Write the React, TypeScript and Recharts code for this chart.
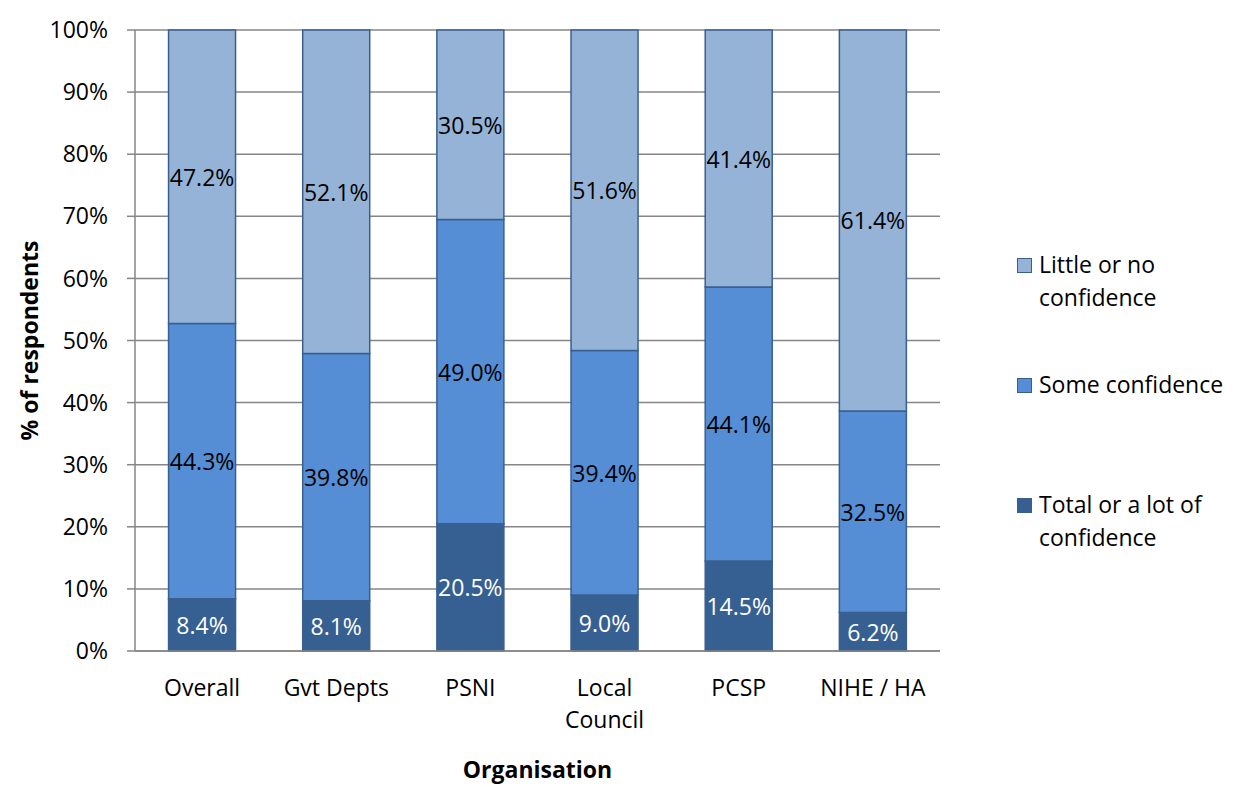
import { BarChart, Bar, XAxis, YAxis, CartesianGrid, LabelList } from "recharts"

const organisations = ["Overall", "Gvt Depts", "PSNI", "Local Council", "PCSP", "NIHE / HA"]
const totalConfidence = [8.4, 8.1, 20.5, 9.0, 14.5, 6.2]
const someConfidence = [44.3, 39.8, 49.0, 39.4, 44.1, 32.5]
const littleConfidence = [47.2, 52.1, 30.5, 51.6, 41.4, 61.4]
const yTicks = [0, 0.1, 0.2, 0.3, 0.4, 0.5, 0.6, 0.7, 0.8, 0.9, 1]

const FONT = "'Open Sans', sans-serif"
const FS = 23
const GRID = "#868686"
const EDGE = "#3A5F8F"

const series = [
  { key: "total", name: "Total or a lot of confidence", fill: "#376092", values: totalConfidence, text: "#ffffff" },
  { key: "some", name: "Some confidence", fill: "#558ED5", values: someConfidence, text: "#000000" },
  { key: "little", name: "Little or no confidence", fill: "#95B3D7", values: littleConfidence, text: "#000000" },
]

const data = organisations.map((org, i) => ({
  org,
  total: totalConfidence[i],
  some: someConfidence[i],
  little: littleConfidence[i],
}))

// legend labels are wrapped like Excel does
const legendItems = [
  { lines: ["Little or no", "confidence"], fill: "#95B3D7", top: 248 },
  { lines: ["Some confidence"], fill: "#558ED5", top: 368 },
  { lines: ["Total or a lot of", "confidence"], fill: "#376092", top: 488 },
]

function OrgTick({ x, y, payload }: any) {
  const words = String(payload.value) === "Local Council" ? ["Local", "Council"] : [String(payload.value)]
  return (
    <g>
      {words.map((w, i) => (
        <text key={i} x={x} y={y + 37 + i * 32} textAnchor="middle" fontFamily={FONT} fontSize={FS} fill="#000">
          {w}
        </text>
      ))}
    </g>
  )
}

function makeLabel(values: number[], color: string) {
  return (props: any) => {
    const { x, y, width, height, index } = props
    return (
      <text
        x={x + width / 2}
        y={y + height / 2}
        textAnchor="middle"
        dominantBaseline="central"
        fontFamily={FONT}
        fontSize={FS}
        fill={color}
      >
        {values[index].toFixed(1)}%
      </text>
    )
  }
}

function LegendBox() {
  return (
    <div style={{ position: "absolute", left: 1017, top: 0, width: 220, height: 787, fontFamily: FONT, fontSize: FS }}>
      {legendItems.map((it) => (
        <div key={it.fill} style={{ position: "absolute", top: it.top, left: 0, display: "flex" }}>
          <div
            style={{
              width: 15,
              height: 15,
              background: it.fill,
              border: `1.5px solid ${EDGE}`,
              marginTop: 10,
              marginRight: 7,
              boxSizing: "border-box",
              flexShrink: 0,
            }}
          />
          <div style={{ lineHeight: "33px", color: "#000", whiteSpace: "nowrap" }}>
            {it.lines.map((l) => (
              <div key={l}>{l}</div>
            ))}
          </div>
        </div>
      ))}
    </div>
  )
}

export default function App() {
  return (
    <div style={{ position: "absolute", left: 0, top: 0, width: 1237, height: 787, background: "#fff" }}>
      <BarChart
        width={1237}
        height={787}
        data={data}
        stackOffset="expand"
        margin={{ top: 30, right: 297, left: 55, bottom: 76 }}
        barCategoryGap="25%"
      >
        <CartesianGrid vertical={false} stroke={GRID} strokeWidth={1.5} />
        <XAxis
          dataKey="org"
          tick={<OrgTick />}
          tickLine={false}
          axisLine={{ stroke: GRID, strokeWidth: 1.5 }}
          height={60}
          interval={0}
          label={{
            value: "Organisation",
            position: "insideBottom",
            offset: -67,
            style: { fontFamily: FONT, fontSize: FS, fontWeight: 700, fill: "#000" },
          }}
        />
        <YAxis
          width={80}
          ticks={yTicks}
          domain={[0, 1]}
          tickFormatter={(v: number) => `${Math.round(v * 100)}%`}
          tick={{ fontFamily: FONT, fontSize: FS, fill: "#000" }}
          tickSize={8}
          tickMargin={19}
          tickLine={{ stroke: GRID, strokeWidth: 1.5 }}
          axisLine={{ stroke: GRID, strokeWidth: 1.5 }}
          label={{
            value: "% of respondents",
            angle: -90,
            position: "insideLeft",
            offset: -25,
            style: { fontFamily: FONT, fontSize: FS, fontWeight: 700, fill: "#000", textAnchor: "middle" },
          }}
        />
        {series.map((s) => (
          <Bar
            key={s.key}
            dataKey={s.key}
            name={s.name}
            stackId="a"
            fill={s.fill}
            stroke={EDGE}
            strokeWidth={1.5}
            isAnimationActive={false}
          >
            <LabelList dataKey={s.key} content={makeLabel(s.values, s.text)} />
          </Bar>
        ))}
      </BarChart>
      <LegendBox />
    </div>
  )
}
